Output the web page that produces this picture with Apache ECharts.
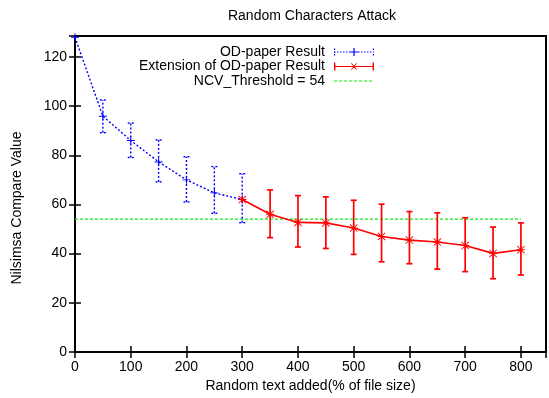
<!DOCTYPE html>
<html>
<head>
<meta charset="utf-8">
<script src="https://cdn.jsdelivr.net/npm/echarts@6/dist/echarts.min.js"></script>
<style>
  html, body { margin: 0; padding: 0; background: #fff; }
  #chart { width: 549px; height: 398px; }
</style>
</head>
<body>
<div id="chart"></div>
<script>
// values
const odX    = [0, 50, 100, 150, 200, 250, 300]
const odMean = [128, 95.9, 86.0, 77.3, 70.0, 64.7, 62.0]
const odLow  = [null, 89.2, 79.1, 69.2, 61.0, 56.4, 52.6]
const odHigh = [null, 102.5, 93.1, 86.2, 79.4, 75.4, 72.5]

const extX    = [300, 350, 400, 450, 500, 550, 600, 650, 700, 750, 800]
const extMean = [62.0, 56.0, 52.7, 52.5, 50.4, 47.0, 45.5, 44.7, 43.3, 40.1, 41.6]
const extLow  = [null, 46.5, 42.7, 42.1, 39.7, 36.7, 35.9, 33.7, 32.7, 29.8, 31.3]
const extHigh = [null, 65.9, 63.6, 63.1, 61.7, 60.1, 57.1, 56.6, 54.6, 50.8, 52.5]

const threshold  = 54
const thresholdX = [0, 800]

const BLUE  = '#0000ff'
const RED   = '#ff0000'
const GREEN = '#11ee11'
const FONT  = 'Liberation Sans'

const PLUS = 'path://M0 4.4H10V5.6H0Z M4.4 0H5.6V10H4.4Z'
const STAR = 'path://M0 4.4H10V5.6H0Z M4.4 0H5.6V10H4.4Z M0.8 0L10 9.2L9.2 10L0 0.8Z M9.2 0L10 0.8L0.8 10L0 9.2Z'

// legend icons, 40x10 box (tiny corner subpaths keep the box size)
const box = 'M0 0L0.01 0L0 0.01Z M40 10L39.99 10L40 9.99Z '
function dashes(step, len) {
  let p = ''
  for (let x = 0; x < 40; x += step) p += `M${x} 4.4H${Math.min(x + len, 40)}V5.6H${x}Z `
  return p
}
const iconOd  = 'path://' + box + dashes(3, 1.5) +
  'M0 1.5H1.2V3H0Z M0 4.5H1.2V6H0Z M0 7H1.2V8.5H0Z M38.8 1.5H40V3H38.8Z M38.8 7H40V8.5H38.8Z ' +
  'M16 4.4H24V5.6H16Z M19.4 1H20.6V9H19.4Z'
const iconExt = 'path://' + box + 'M0 4.4H40V5.6H0Z M0 1H1.4V9H0Z M38.6 1H40V9H38.6Z ' +
  'M16.8 1.8L17.8 1.8L23.2 8.2L22.2 8.2Z M22.2 1.8L23.2 1.8L17.8 8.2L16.8 8.2Z'
const iconThr = 'path://' + box + dashes(5, 3.2)

function errorBars(dash, width) {
  return function (params, api) {
    if (api.value(1) == null || isNaN(api.value(1))) return
    const x  = api.value(0)
    const lo = api.coord([x, api.value(1)])
    const hi = api.coord([x, api.value(2)])
    const w = 3
    const style = { stroke: api.visual('color'), lineWidth: width, lineDash: dash, fill: null }
    return {
      type: 'group',
      children: [
        { type: 'line', shape: { x1: lo[0], y1: lo[1], x2: hi[0], y2: hi[1] }, style },
        { type: 'line', shape: { x1: lo[0] - w, y1: lo[1], x2: lo[0] + w, y2: lo[1] }, style },
        { type: 'line', shape: { x1: hi[0] - w, y1: hi[1], x2: hi[0] + w, y2: hi[1] }, style },
      ],
    }
  }
}

const chart = echarts.init(document.getElementById('chart'), null, { renderer: 'canvas' })

const tick = { show: true, inside: true, length: 6, lineStyle: { color: '#000', width: 1.5 } }
const xBase = { type: 'value', min: 0, max: 845, interval: 100, splitLine: { show: false }, axisLine: { show: false } }
const yBase = { type: 'value', min: 0, max: 128.5, interval: 20, splitLine: { show: false }, axisLine: { show: false } }

chart.setOption({
  animation: false,
  backgroundColor: '#fff',
  textStyle: { fontFamily: FONT },
  title: {
    text: 'Random Characters Attack',
    left: 312,
    top: 9,
    padding: 0,
    textAlign: 'center',
    textStyle: { fontFamily: FONT, fontSize: 14, fontWeight: 'normal', color: '#000' },
  },
  grid: { left: 75, right: 1, top: 36, bottom: 46, show: true, borderColor: '#000', borderWidth: 2 },
  legend: {
    orient: 'vertical',
    align: 'right',
    right: 175,
    top: 45,
    padding: 0,
    itemGap: 0.5,
    itemWidth: 40,
    itemHeight: 10,
    itemStyle: { borderWidth: 0 },
    textStyle: { fontFamily: FONT, fontSize: 14, color: '#000', lineHeight: 14, padding: [0, 4, 0, 0] },
    selectedMode: false,
    data: [
      { name: 'OD-paper Result', icon: iconOd },
      { name: 'Extension of OD-paper Result', icon: iconExt },
      { name: 'NCV_Threshold = 54', icon: iconThr },
    ],
  },
  xAxis: [
    {
      ...xBase,
      position: 'bottom',
      axisTick: tick,
      axisLabel: {
        color: '#000', fontSize: 14, margin: 8, fontFamily: FONT,
        formatter: v => (v % 100 === 0 ? String(v) : ''),
      },
      name: 'Random text added(% of file size)',
      nameLocation: 'middle',
      nameGap: 26,
      nameTextStyle: { color: '#000', fontSize: 14, fontFamily: FONT },
    },
    { ...xBase, position: 'top', axisTick: tick, axisLabel: { show: false } },
  ],
  yAxis: [
    {
      ...yBase,
      position: 'left',
      axisTick: tick,
      axisLabel: {
        color: '#000', fontSize: 14, margin: 8, fontFamily: FONT,
        formatter: v => (v % 20 === 0 ? String(v) : ''),
      },
      name: 'Nilsimsa Compare Value',
      nameLocation: 'middle',
      nameRotate: 90,
      nameGap: 51,
      nameTextStyle: { color: '#000', fontSize: 14, fontFamily: FONT, padding: [0, 28, 0, 0] },
    },
    { ...yBase, position: 'right', axisTick: tick, axisLabel: { show: false } },
  ],
  series: [
    {
      name: 'OD-paper Result',
      type: 'line',
      data: odX.map((x, i) => [x, odMean[i]]),
      symbol: PLUS,
      symbolSize: 8,
      showAllSymbol: true,
      itemStyle: { color: BLUE, borderWidth: 0 },
      lineStyle: { color: BLUE, width: 1.4, type: [2, 2] },
      clip: false,
      z: 4,
    },
    {
      name: 'OD-paper Result',
      type: 'custom',
      data: odX.map((x, i) => [x, odLow[i], odHigh[i]]),
      encode: { x: 0, y: [1, 2] },
      itemStyle: { color: BLUE },
      renderItem: errorBars([2, 2], 1.4),
      z: 3,
    },
    {
      name: 'Extension of OD-paper Result',
      type: 'line',
      data: extX.map((x, i) => [x, extMean[i]]),
      symbol: STAR,
      symbolSize: 8,
      showAllSymbol: true,
      itemStyle: { color: RED, borderWidth: 0 },
      lineStyle: { color: RED, width: 1.6 },
      z: 5,
    },
    {
      name: 'Extension of OD-paper Result',
      type: 'custom',
      data: extX.map((x, i) => [x, extLow[i], extHigh[i]]),
      encode: { x: 0, y: [1, 2] },
      itemStyle: { color: RED },
      renderItem: errorBars(null, 1.7),
      z: 5,
    },
    {
      name: 'NCV_Threshold = 54',
      type: 'line',
      data: thresholdX.map(x => [x, threshold]),
      symbol: 'none',
      itemStyle: { color: GREEN },
      lineStyle: { color: GREEN, width: 1.2, type: [3, 2] },
      z: 2,
    },
  ],
})
</script>
</body>
</html>
